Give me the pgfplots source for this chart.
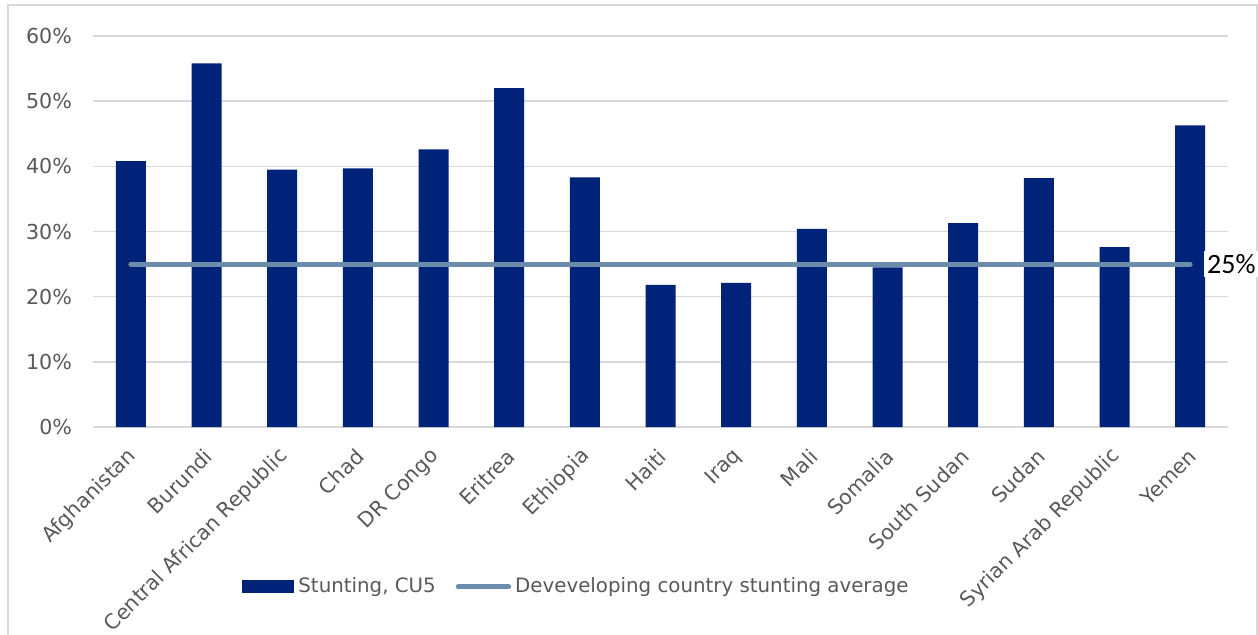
\documentclass[border=0pt]{standalone}
\usepackage{pgfplots}
\pgfplotsset{compat=1.18}
\usepackage{fontspec}
\setmainfont{DejaVu Sans}
\newfontfamily\carlito{Carlito}
\definecolor{barblue}{RGB}{0,35,122}
\definecolor{avgline}{RGB}{107,140,171}
\definecolor{gridgray}{RGB}{217,217,217}
\definecolor{textgray}{RGB}{89,89,89}
\begin{document}
\begin{tikzpicture}[x=1pt,y=1pt]
\useasboundingbox (0,0) rectangle (629,-317.5);
\draw[gridgray, line width=0.75pt] (4,-330) -- (4,-2.5) -- (628.5,-2.5) -- (628.5,-330);
\begin{axis}[
  at={(46.5pt,-213.5pt)}, anchor=south west,
  scale only axis, width=567.5pt, height=195.5pt,
  xmin=-0.5, xmax=14.5, ymin=0, ymax=60,
  ytick={0,10,20,30,40,50,60},
  yticklabels={0\%,10\%,20\%,30\%,40\%,50\%,60\%},
  xtick={0,...,14},
  xticklabels={Afghanistan,Burundi,Central African Republic,Chad,DR Congo,Eritrea,Ethiopia,Haiti,Iraq,Mali,Somalia,South Sudan,Sudan,Syrian Arab Republic,Yemen},
  axis x line*=bottom, axis y line*=left,
  y axis line style={draw=none},
  x axis line style={gridgray, line width=1pt},
  major tick length=0pt,
  ymajorgrids, grid style={gridgray, line width=0.75pt},
  tick label style={font=\fontsize{10.3}{12}\selectfont, text=textgray},
  yticklabel style={xshift=-7pt},
  xticklabel style={xshift=3.5pt, yshift=-1.5pt, rotate=45, anchor=east},
  xticklabel shift=9pt,
  clip=false,
  legend columns=2,
  legend style={at={(0.126,-0.409)}, anchor=west, draw=none, fill=none,
    font=\fontsize{9.9}{12}\selectfont, text=textgray,
    /tikz/every even column/.append style={column sep=8pt}},
  legend cell align=left,
]
\addplot[ybar, bar width=15pt, fill=barblue, draw=none,
  legend image code/.code={\fill[barblue] (0pt,-3.25pt) rectangle (26pt,3.25pt);}]
  coordinates {(0,40.8) (1,55.8) (2,39.5) (3,39.7) (4,42.6) (5,52.0) (6,38.3) (7,21.8) (8,22.1) (9,30.4) (10,24.5) (11,31.3) (12,38.2) (13,27.6) (14,46.3)};
\addlegendentry{Stunting, CU5}
\addplot[avgline, line width=2.5pt, line cap=round, mark=none,
  legend image code/.code={\draw[avgline, line width=2.5pt, line cap=round] (1.25pt,0pt) -- (26.5pt,0pt);}]
  coordinates {(0,25) (1,25) (2,25) (3,25) (4,25) (5,25) (6,25) (7,25) (8,25) (9,25) (10,25) (11,25) (12,25) (13,25) (14,25)};
\addlegendentry{Deveveloping country stunting average}
\node[fill=white, anchor=west, inner sep=1.5pt, text=black, font=\carlito\fontsize{14}{16}\selectfont] at (axis cs:14.18,25) {25\%};
\end{axis}
\end{tikzpicture}
\end{document}
